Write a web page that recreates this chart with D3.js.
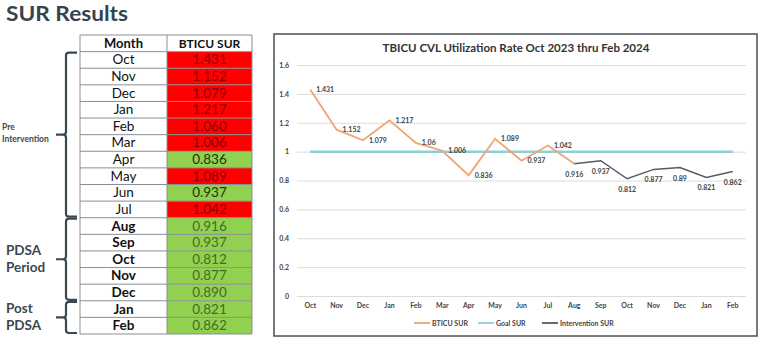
<!DOCTYPE html>
<html><head><meta charset="utf-8">
<script src="https://cdn.jsdelivr.net/npm/d3@7"></script>
<style>body{margin:0;background:#fff}svg{display:block}</style>
</head><body>
<svg id="c" width="760" height="340"></svg>
<script>
const months = ["Oct","Nov","Dec","Jan","Feb","Mar","Apr","May","Jun","Jul","Aug","Sep","Oct","Nov","Dec","Jan","Feb"];
const surValues = [1.431,1.152,1.079,1.217,1.060,1.006,0.836,1.089,0.937,1.042,0.916,0.937,0.812,0.877,0.890,0.821,0.862];
const goalValues = [1,1,1,1,1,1,1,1,1,1,1,1,1,1,1,1,1];
const bticuIdx = [0,1,2,3,4,5,6,7,8,9,10];
const interventionIdx = [10,11,12,13,14,15,16];
const yTicks = [0,0.2,0.4,0.6,0.8,1,1.2,1.4,1.6];
const phases = [
  {name:["Pre","Intervention"], from:0, to:9},
  {name:["PDSA","Period"], from:10, to:14},
  {name:["Post","PDSA"], from:15, to:16}
];
const legendItems = [
  {name:"BTICU SUR", color:"#f2a273"},
  {name:"Goal SUR", color:"#8fd0d4"},
  {name:"Intervention SUR", color:"#555b60"}
];

const svg = d3.select("#c");
const FONT = "Lato, 'DejaVu Sans', sans-serif";

// Title
svg.append("text").attr("x",6).attr("y",21).text("SUR Results")
  .attr("font-family",FONT).attr("font-weight","bold").attr("font-size",21)
  .attr("fill","#36444d").attr("textLength",122).attr("lengthAdjust","spacingAndGlyphs");

// ---------- Table ----------
const tx0 = 80, tx1 = 167, tx2 = 252;
const rowY = d3.scaleBand().domain(d3.range(-1, months.length)).range([35, 334]);
const tg = svg.append("g");
const rows = tg.selectAll("g.row").data(months.map((m,i)=>({m,v:surValues[i],i}))).enter().append("g");
rows.append("rect").attr("x",tx0).attr("y",d=>rowY(d.i)).attr("width",tx1-tx0).attr("height",rowY.bandwidth()).attr("fill","#fff");
rows.append("rect").attr("x",tx1).attr("y",d=>rowY(d.i)).attr("width",tx2-tx1).attr("height",rowY.bandwidth())
  .attr("fill",d=>d.v>1?"#ff0000":"#92d050");
rows.append("text").attr("x",(tx0+tx1)/2).attr("y",d=>rowY(d.i)+rowY.bandwidth()/2+4.5)
  .attr("text-anchor","middle").attr("font-family",FONT).attr("font-size",13.5)
  .attr("font-weight",d=>d.i>=10?"bold":"normal").attr("fill","#111").text(d=>d.m);
rows.append("text").attr("x",(tx1+tx2)/2).attr("y",d=>rowY(d.i)+rowY.bandwidth()/2+4.5)
  .attr("text-anchor","middle").attr("font-family",FONT).attr("font-size",13.5)
  .attr("fill",d=>d.v>1?"#8c0000":(d.i>=10?"#3f6e25":"#1a3310")).text(d=>d3.format(".3f")(d.v));
// header
tg.append("rect").attr("x",tx0).attr("y",rowY(-1)).attr("width",tx2-tx0).attr("height",rowY.bandwidth()).attr("fill","#fff");
tg.append("text").attr("x",(tx0+tx1)/2).attr("y",rowY(-1)+rowY.bandwidth()/2+4.5).attr("text-anchor","middle")
  .attr("font-family",FONT).attr("font-weight","bold").attr("font-size",13).attr("fill","#111").text("Month");
tg.append("text").attr("x",(tx1+tx2)/2).attr("y",rowY(-1)+rowY.bandwidth()/2+4.5).attr("text-anchor","middle")
  .attr("font-family",FONT).attr("font-weight","bold").attr("font-size",12).attr("fill","#111").text("BTICU SUR");
// grid lines
d3.range(-1, months.length+1).forEach(i=>{
  const y = i===months.length ? 334 : rowY(i);
  tg.append("line").attr("x1",tx0).attr("x2",tx2).attr("y1",y).attr("y2",y).attr("stroke","#8a8f94").attr("stroke-width",1);
});
[tx0,tx1,tx2].forEach(x=>tg.append("line").attr("x1",x).attr("x2",x).attr("y1",35).attr("y2",334).attr("stroke","#8a8f94").attr("stroke-width",1));

// Braces
const bg = svg.append("g");
phases.forEach((p,k)=>{
  const y0 = rowY(p.from)+1, y1 = rowY(p.to)+rowY.bandwidth()-1, ym=(y0+y1)/2;
  const xv = 66, xt = 77, xl = 56;
  const path = `M${xt},${y0} L${xv+3},${y0} Q${xv},${y0} ${xv},${y0+3} L${xv},${ym-3} Q${xv},${ym} ${xv-3},${ym} L${xl},${ym} M${xv-3},${ym} Q${xv},${ym} ${xv},${ym+3} L${xv},${y1-3} Q${xv},${y1} ${xv+3},${y1} L${xt},${y1}`;
  bg.append("path").attr("d",path).attr("fill","none").attr("stroke","#3b4850").attr("stroke-width",2.2);
  const small = k===0;
  p.name.forEach((t,j)=>{
    bg.append("text").attr("x", small?2:6).attr("y", small? ym-5+j*12 : ym-4+j*17)
      .attr("font-family",FONT).attr("font-weight","bold").attr("font-size",small?8.5:13.5)
      .attr("fill","#3b4850").text(t);
  });
});

// ---------- Chart ----------
svg.append("rect").attr("x",274).attr("y",34).attr("width",483).attr("height",302)
  .attr("fill","#fff").attr("stroke","#4a4f53").attr("stroke-width",1.5);
svg.append("text").attr("x",516).attr("y",52).attr("text-anchor","middle")
  .attr("font-family",FONT).attr("font-weight","bold").attr("font-size",11.5).attr("fill","#333")
  .text("TBICU CVL Utilization Rate Oct 2023 thru Feb 2024");

const x = d3.scaleBand().domain(d3.range(months.length)).range([297,746]);
const y = d3.scaleLinear().domain([0,1.6]).range([296,65]);
const cx = i => x(i)+x.bandwidth()/2;

const gy = svg.append("g").attr("transform","translate(297,0)")
  .call(d3.axisLeft(y).tickValues(yTicks).tickSize(-449).tickFormat(d=>String(d)).tickPadding(8));
gy.select(".domain").remove();
gy.selectAll(".tick line").attr("stroke","#dcdcdc").attr("stroke-width",1);
gy.selectAll(".tick text").attr("font-family",FONT).attr("font-size",7).attr("fill","#444").attr("font-weight","bold");

const gx = svg.append("g").attr("transform","translate(0,296)")
  .call(d3.axisBottom(x).tickFormat(i=>months[i]).tickSize(0).tickPadding(7));
gx.select(".domain").remove();
gx.selectAll(".tick text").attr("font-family",FONT).attr("font-size",7).attr("fill","#444").attr("font-weight","bold");

const line = d3.line().x(i=>cx(i));
svg.append("path").attr("d", line.y(i=>y(goalValues[i]))(d3.range(months.length)))
  .attr("fill","none").attr("stroke",legendItems[1].color).attr("stroke-width",2.5);
svg.append("path").attr("d", line.y(i=>y(surValues[i]))(bticuIdx))
  .attr("fill","none").attr("stroke",legendItems[0].color).attr("stroke-width",1.8);
svg.append("path").attr("d", line.y(i=>y(surValues[i]))(interventionIdx))
  .attr("fill","none").attr("stroke",legendItems[2].color).attr("stroke-width",1.5);

// data labels
const lg = svg.append("g").attr("font-family",FONT).attr("font-size",7).attr("fill","#444").attr("font-weight","bold");
bticuIdx.slice(0,10).forEach(i=>{
  lg.append("text").attr("x",cx(i)+6).attr("y",y(surValues[i])+2.5).text(String(surValues[i]));
});
interventionIdx.forEach(i=>{
  lg.append("text").attr("x",cx(i)).attr("y",y(surValues[i])+13).attr("text-anchor","middle").text(String(surValues[i]));
});

// legend
const lgd = svg.append("g").attr("font-family",FONT).attr("font-size",7).attr("fill","#444").attr("font-weight","bold");
const lx = [414, 478, 542];
legendItems.forEach((d,k)=>{
  lgd.append("line").attr("x1",lx[k]).attr("x2",lx[k]+16).attr("y1",323).attr("y2",323).attr("stroke",d.color).attr("stroke-width",1.8);
  lgd.append("text").attr("x",lx[k]+18).attr("y",325.5).text(d.name);
});
</script>
</body></html>
